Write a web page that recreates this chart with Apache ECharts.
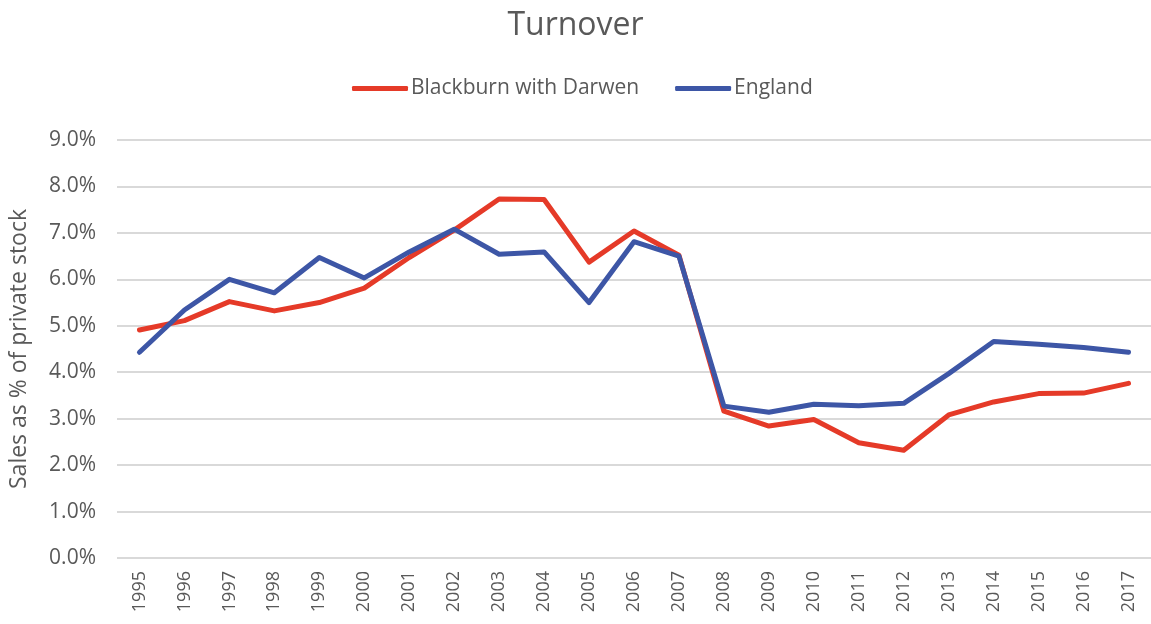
<!DOCTYPE html>
<html>
<head>
<meta charset="utf-8">
<script src="https://cdn.jsdelivr.net/npm/echarts@6/dist/echarts.min.js"></script>
<style>html,body{margin:0;padding:0;background:#fff}#c{width:1151px;height:624px}</style>
</head>
<body>
<div id="c"></div>
<script>
const years = ['1995','1996','1997','1998','1999','2000','2001','2002','2003','2004','2005','2006','2007','2008','2009','2010','2011','2012','2013','2014','2015','2016','2017'];
const blackburn = [4.91,5.11,5.52,5.32,5.50,5.81,6.47,7.06,7.73,7.72,6.37,7.04,6.52,3.16,2.84,2.98,2.48,2.32,3.08,3.36,3.54,3.55,3.76];
const england = [4.43,5.34,6.00,5.71,6.47,6.03,6.59,7.08,6.54,6.59,5.50,6.81,6.50,3.27,3.14,3.31,3.28,3.33,3.97,4.66,4.60,4.53,4.43];
const seriesNames = ['Blackburn with Darwen','England'];
const titleText = 'Turnover';
const yAxisName = 'Sales as % of private stock';

const font = '"Open Sans", sans-serif';
const chart = echarts.init(document.getElementById('c'));
chart.setOption({
  animation: false,
  backgroundColor: '#ffffff',
  title: {
    text: titleText, left: 'center', top: 5,
    textStyle: {fontFamily: font, fontSize: 32, fontWeight: 'normal', color: '#595959'}
  },
  legend: {
    data: seriesNames, top: 73, left: 347,
    icon: 'roundRect', itemWidth: 56, itemHeight: 5, itemGap: 36,
    textStyle: {fontFamily: font, fontSize: 21, color: '#595959', padding: [0,0,0,-2]}
  },
  grid: {left: 114, top: 140, width: 1042, bottom: 66, containLabel: false},
  xAxis: {
    type: 'category', data: years, boundaryGap: true,
    axisLine: {show: false}, axisTick: {show: false},
    axisLabel: {rotate: 90, fontFamily: font, fontSize: 18, color: '#595959', margin: 13}
  },
  yAxis: {
    type: 'value', min: 0, max: 9, interval: 1,
    name: yAxisName, nameLocation: 'middle', nameRotate: 90, nameGap: 86,
    nameTextStyle: {fontFamily: font, fontSize: 23, color: '#595959'},
    axisLine: {show: false}, axisTick: {show: false},
    axisLabel: {formatter: v => v.toFixed(1) + '%', fontFamily: font, fontSize: 21, color: '#595959', margin: 21},
    splitLine: {lineStyle: {color: '#d9d9d9', width: 2}}
  },
  series: [
    {name: seriesNames[0], type: 'line', data: blackburn, symbol: 'none',
     lineStyle: {color: '#e53a28', width: 5, cap: 'round', join: 'round'}, itemStyle: {color: '#e53a28'}},
    {name: seriesNames[1], type: 'line', data: england, symbol: 'none',
     lineStyle: {color: '#3d56a6', width: 5, cap: 'round', join: 'round'}, itemStyle: {color: '#3d56a6'}}
  ]
});
</script>
</body>
</html>
